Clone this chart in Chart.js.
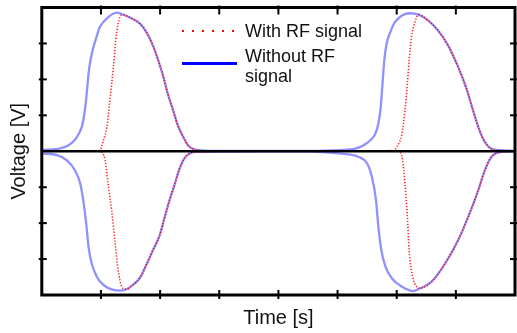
<!DOCTYPE html>
<html>
<head>
<meta charset="utf-8">
<script src="https://cdn.jsdelivr.net/npm/chart.js@4/dist/chart.umd.min.js"></script>
<style>
  html, body { margin:0; padding:0; background:#fff; }
  #wrap { position:relative; width:517px; height:333px; }
  #c { position:absolute; left:0; top:0; }
  .lt { position:absolute; font-family:"Liberation Sans", Arial, sans-serif; font-size:18px; line-height:20px; color:#111; width:125px; }
  .ls { position:absolute; }
</style>
</head>
<body>
<div id="wrap">
  <canvas id="c" width="517" height="333"></canvas>
</div>
<script>
// ---- data (time in axis units, voltage in axis units) ----
const seriesNames = ['With RF signal', 'Without RF signal'];
const xTitle = 'Time [s]';
const yTitle = 'Voltage [V]';

// Without RF signal – positive branch
const blueUpT = [0, 0.31, 0.45, 0.55, 0.63, 0.68, 0.71, 0.74, 0.77, 0.80, 0.85, 0.92, 0.98, 1.10, 1.27, 1.35, 1.49, 1.66, 1.77, 1.88, 1.96, 2.05, 2.13, 2.22, 2.30, 2.39, 2.47, 2.58, 2.75, 3.5, 4.5, 5.02, 5.30, 5.44, 5.55, 5.64, 5.69, 5.73, 5.76, 5.79, 5.83, 5.89, 5.97, 6.09, 6.23, 6.37, 6.53, 6.70, 6.87, 7.04, 7.18, 7.29, 7.40, 7.49, 7.60, 7.76, 8.00];
const blueUpV = [0.03, 0.08, 0.17, 0.30, 0.50, 0.70, 0.95, 1.30, 1.80, 2.30, 2.75, 3.15, 3.45, 3.70, 3.86, 3.82, 3.72, 3.55, 3.31, 2.94, 2.57, 2.10, 1.60, 1.14, 0.72, 0.40, 0.17, 0.05, 0.02, 0.01, 0.01, 0.03, 0.07, 0.17, 0.30, 0.49, 0.77, 1.23, 1.88, 2.53, 3.00, 3.31, 3.59, 3.78, 3.84, 3.80, 3.64, 3.36, 2.94, 2.34, 1.74, 1.14, 0.58, 0.26, 0.07, 0.03, 0.01];

// Without RF signal – negative branch
const blueLoT = [0, 0.26, 0.42, 0.56, 0.65, 0.70, 0.75, 0.79, 0.84, 0.93, 1.04, 1.21, 1.32, 1.43, 1.54, 1.66, 1.77, 1.88, 1.99, 2.08, 2.16, 2.25, 2.33, 2.41, 2.50, 2.61, 3.5, 4.5, 5.02, 5.36, 5.50, 5.58, 5.65, 5.69, 5.74, 5.81, 5.92, 6.09, 6.28, 6.40, 6.59, 6.82, 7.04, 7.21, 7.38, 7.49, 7.60, 7.77, 8.00];
const blueLoV = [-0.06, -0.11, -0.25, -0.53, -0.90, -1.36, -2.00, -2.66, -3.10, -3.49, -3.72, -3.86, -3.88, -3.84, -3.72, -3.52, -3.15, -2.75, -2.35, -1.82, -1.36, -0.90, -0.48, -0.20, -0.06, -0.02, -0.01, -0.01, -0.06, -0.16, -0.34, -0.71, -1.36, -2.10, -2.75, -3.21, -3.54, -3.77, -3.89, -3.81, -3.63, -3.12, -2.47, -1.82, -1.08, -0.53, -0.16, -0.02, -0.01];

// With RF signal – positive branch
const redUpT = [0, 0.98, 1.04, 1.10, 1.15, 1.21, 1.25, 1.29, 1.35, 1.49, 1.66, 1.77, 1.88, 1.96, 2.05, 2.13, 2.22, 2.30, 2.39, 2.47, 2.58, 2.75, 4.5, 5.95, 6.00, 6.09, 6.14, 6.18, 6.21, 6.25, 6.30, 6.37, 6.53, 6.70, 6.87, 7.04, 7.18, 7.29, 7.40, 7.49, 7.60, 7.76, 8.00];
const redUpV = [0, 0.02, 0.30, 0.67, 1.40, 2.34, 3.08, 3.55, 3.80, 3.72, 3.55, 3.31, 2.94, 2.57, 2.10, 1.60, 1.14, 0.72, 0.40, 0.17, 0.05, 0.01, 0, 0.02, 0.12, 0.49, 1.14, 1.88, 2.53, 3.17, 3.55, 3.80, 3.64, 3.36, 2.94, 2.34, 1.74, 1.14, 0.58, 0.26, 0.07, 0.02, 0];

// With RF signal – negative branch
const redLoT = [0, 0.98, 1.07, 1.12, 1.18, 1.24, 1.29, 1.35, 1.39, 1.43, 1.54, 1.66, 1.77, 1.88, 1.99, 2.08, 2.16, 2.25, 2.33, 2.41, 2.50, 2.61, 4.5, 6.03, 6.10, 6.14, 6.18, 6.21, 6.27, 6.34, 6.40, 6.59, 6.82, 7.04, 7.21, 7.38, 7.49, 7.60, 7.77, 8.00];
const redLoV = [0, 0, -0.25, -0.90, -1.64, -2.56, -3.30, -3.77, -3.82, -3.84, -3.72, -3.52, -3.15, -2.75, -2.35, -1.82, -1.36, -0.90, -0.48, -0.20, -0.06, -0.02, 0, 0, -0.25, -0.90, -1.82, -2.75, -3.49, -3.77, -3.81, -3.63, -3.12, -2.47, -1.82, -1.08, -0.53, -0.16, -0.02, 0];

const xRange = [0, 8];
const yRange = [-4, 4];

// ---- build ----
const pts = (t, v) => t.map((x, i) => ({x: x, y: v[i]}));
const RED = 'rgba(255,0,0,0.85)';
const BLUE = 'rgba(70,70,255,0.6)';
const redStyle = { borderColor: RED, borderWidth: 1.6, borderDash: [1.3, 1.7], pointRadius: 0, cubicInterpolationMode: 'monotone', fill: false };
const blueStyle = { borderColor: BLUE, borderWidth: 2.3, pointRadius: 0, cubicInterpolationMode: 'monotone', fill: false };

const frame = {
  id: 'frame',
  afterDatasetsDraw(chart) {
    const {ctx, chartArea: {left, right, top, bottom}, scales: {x, y}} = chart;
    const line = (a, b, c, d) => { ctx.beginPath(); ctx.moveTo(a, b); ctx.lineTo(c, d); ctx.stroke(); };
    ctx.save();
    ctx.strokeStyle = '#000';
    ctx.lineWidth = 2.5;
    const y0 = y.getPixelForValue(0);
    line(left, y0, right, y0);
    ctx.lineWidth = 2;
    x.ticks.forEach(t => {
      if (t.value <= x.min || t.value >= x.max) return;
      const px = x.getPixelForValue(t.value);
      line(px, bottom - 5, px, bottom + 4);
      line(px, top - 2, px, top + 7);
    });
    y.ticks.forEach(t => {
      if (t.value <= y.min || t.value >= y.max || t.value === 0) return;
      const py = y.getPixelForValue(t.value);
      line(left - 3, py, left + 5, py);
      line(right - 5, py, right + 3, py);
    });
    ctx.lineWidth = 3;
    ctx.strokeRect(left, top, right - left, bottom - top);
    ctx.restore();
  }
};

const titleFont = { family: '"Liberation Sans", Arial, sans-serif', size: 20, lineHeight: 1.2 };

new Chart(document.getElementById('c'), {
  type: 'line',
  data: {
    datasets: [
      Object.assign({ label: seriesNames[0], data: pts(redUpT, redUpV) }, redStyle),
      Object.assign({ label: seriesNames[0] + ' (neg)', data: pts(redLoT, redLoV) }, redStyle),
      Object.assign({ label: seriesNames[1], data: pts(blueUpT, blueUpV) }, blueStyle),
      Object.assign({ label: seriesNames[1] + ' (neg)', data: pts(blueLoT, blueLoV) }, blueStyle)
    ]
  },
  options: {
    responsive: false,
    devicePixelRatio: 1,
    animation: false,
    layout: { padding: { left: 0, right: 2, top: 7.5, bottom: 0 } },
    plugins: { legend: { display: false }, tooltip: { enabled: false } },
    scales: {
      x: {
        type: 'linear', min: xRange[0], max: xRange[1],
        ticks: { display: false, stepSize: 1 },
        grid: { display: false }, border: { display: false },
        title: { display: true, text: xTitle, color: '#111', font: titleFont, padding: { top: 3, bottom: 3 } }
      },
      y: {
        type: 'linear', min: yRange[0], max: yRange[1],
        ticks: { display: false, stepSize: 1 },
        grid: { display: false }, border: { display: false },
        title: { display: true, text: yTitle, color: '#111', font: titleFont, padding: { top: 7, bottom: 2.8 } }
      }
    }
  },
  plugins: [frame]
});

// ---- legend (HTML text) ----
const wrap = document.getElementById('wrap');
function add(cls, style, text) {
  const d = document.createElement('div');
  d.className = cls;
  Object.assign(d.style, style);
  if (text) d.textContent = text;
  wrap.appendChild(d);
}
add('ls', { left: '182px', top: '30px', width: '52px', height: '2px', background: 'repeating-linear-gradient(90deg, #f00 0 2px, transparent 2px 10px)' });
add('lt', { left: '245px', top: '21px' }, seriesNames[0]);
add('ls', { left: '182px', top: '62px', width: '55px', height: '2.5px', background: '#0000ff' });
add('lt', { left: '245px', top: '45.5px' }, seriesNames[1]);
</script>
</body>
</html>
